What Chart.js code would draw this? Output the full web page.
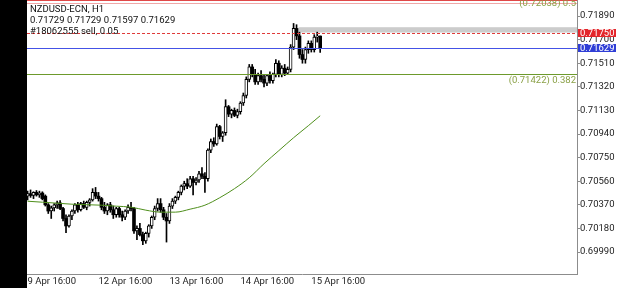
<!DOCTYPE html>
<html>
<head>
<meta charset="utf-8">
<script src="https://cdn.jsdelivr.net/npm/chart.js@4.4.1/dist/chart.umd.min.js"></script>
<style>
  html, body { margin: 0; padding: 0; background: #fff; overflow: hidden; }
  #wrap { width: 625px; height: 288px; }
</style>
</head>
<body>
<div id="wrap"><canvas id="chart" width="625" height="288"></canvas></div>
<script>
// NZDUSD-ECN, H1 candles (9 Apr 16:00 .. 15 Apr 19:00)
const opens = [
  0.70440, 0.70460, 0.70445, 0.70470, 0.70450, 0.70465, 0.70440, 0.70370, 0.70320, 0.70345,
  0.70370, 0.70385, 0.70340, 0.70260, 0.70200, 0.70280, 0.70320, 0.70370, 0.70330, 0.70380,
  0.70350, 0.70390, 0.70410, 0.70470, 0.70440, 0.70420, 0.70350, 0.70320, 0.70370, 0.70330,
  0.70290, 0.70340, 0.70290, 0.70270, 0.70320, 0.70350, 0.70340, 0.70160, 0.70180, 0.70130,
  0.70080, 0.70140, 0.70200, 0.70270, 0.70340, 0.70380, 0.70330, 0.70270, 0.70240, 0.70360,
  0.70400, 0.70430, 0.70470, 0.70520, 0.70540, 0.70520, 0.70580, 0.70550, 0.70570, 0.70620,
  0.70600, 0.70580, 0.70810, 0.70880, 0.70860, 0.71000, 0.70920, 0.70950, 0.71160, 0.71100,
  0.71130, 0.71090, 0.71120, 0.71190, 0.71250, 0.71380, 0.71480, 0.71420, 0.71360, 0.71410,
  0.71380, 0.71350, 0.71410, 0.71370, 0.71420, 0.71510, 0.71420, 0.71470, 0.71430, 0.71460,
  0.71640, 0.71790, 0.71730, 0.71580, 0.71540, 0.71620, 0.71670, 0.71620, 0.71720, 0.71729
];
const highs = [
  0.70480, 0.70490, 0.70475, 0.70485, 0.70480, 0.70475, 0.70450, 0.70380, 0.70360, 0.70380,
  0.70400, 0.70405, 0.70350, 0.70290, 0.70290, 0.70330, 0.70380, 0.70390, 0.70390, 0.70400,
  0.70400, 0.70420, 0.70500, 0.70510, 0.70470, 0.70430, 0.70390, 0.70380, 0.70390, 0.70360,
  0.70350, 0.70350, 0.70320, 0.70330, 0.70370, 0.70390, 0.70350, 0.70200, 0.70220, 0.70150,
  0.70150, 0.70210, 0.70280, 0.70360, 0.70420, 0.70420, 0.70350, 0.70300, 0.70380, 0.70420,
  0.70440, 0.70480, 0.70530, 0.70560, 0.70580, 0.70600, 0.70600, 0.70590, 0.70640, 0.70670,
  0.70630, 0.70820, 0.70900, 0.70910, 0.71020, 0.71010, 0.70960, 0.71216, 0.71170, 0.71140,
  0.71150, 0.71140, 0.71200, 0.71270, 0.71400, 0.71500, 0.71500, 0.71460, 0.71430, 0.71450,
  0.71420, 0.71420, 0.71440, 0.71430, 0.71540, 0.71530, 0.71490, 0.71500, 0.71480, 0.71660,
  0.71830, 0.71820, 0.71760, 0.71620, 0.71640, 0.71690, 0.71690, 0.71740, 0.71760, 0.71729
];
const lows = [
  0.70410, 0.70430, 0.70420, 0.70440, 0.70430, 0.70410, 0.70360, 0.70300, 0.70260, 0.70320,
  0.70340, 0.70330, 0.70240, 0.70146, 0.70190, 0.70250, 0.70300, 0.70310, 0.70320, 0.70340,
  0.70330, 0.70360, 0.70400, 0.70420, 0.70400, 0.70330, 0.70300, 0.70290, 0.70310, 0.70260,
  0.70270, 0.70270, 0.70240, 0.70250, 0.70300, 0.70320, 0.70140, 0.70090, 0.70120, 0.70050,
  0.70060, 0.70110, 0.70180, 0.70250, 0.70320, 0.70310, 0.70250, 0.70070, 0.70220, 0.70340,
  0.70380, 0.70410, 0.70450, 0.70490, 0.70500, 0.70510, 0.70450, 0.70530, 0.70550, 0.70580,
  0.70470, 0.70560, 0.70790, 0.70840, 0.70850, 0.70900, 0.70880, 0.70930, 0.71080, 0.71070,
  0.71080, 0.71070, 0.71100, 0.71170, 0.71230, 0.71360, 0.71400, 0.71340, 0.71340, 0.71360,
  0.71320, 0.71330, 0.71350, 0.71350, 0.71400, 0.71400, 0.71400, 0.71410, 0.71420, 0.71440,
  0.71620, 0.71700, 0.71550, 0.71510, 0.71510, 0.71590, 0.71600, 0.71600, 0.71680, 0.71597
];
const closes = [
  0.70460, 0.70445, 0.70470, 0.70450, 0.70465, 0.70420, 0.70370, 0.70320, 0.70345, 0.70370,
  0.70385, 0.70340, 0.70260, 0.70200, 0.70280, 0.70320, 0.70370, 0.70330, 0.70380, 0.70350,
  0.70390, 0.70410, 0.70470, 0.70440, 0.70420, 0.70350, 0.70320, 0.70370, 0.70330, 0.70290,
  0.70340, 0.70290, 0.70270, 0.70320, 0.70350, 0.70340, 0.70160, 0.70180, 0.70130, 0.70080,
  0.70140, 0.70200, 0.70270, 0.70340, 0.70380, 0.70330, 0.70270, 0.70240, 0.70360, 0.70400,
  0.70430, 0.70470, 0.70520, 0.70540, 0.70520, 0.70580, 0.70550, 0.70570, 0.70620, 0.70600,
  0.70580, 0.70810, 0.70880, 0.70860, 0.71000, 0.70920, 0.70950, 0.71160, 0.71100, 0.71130,
  0.71090, 0.71120, 0.71190, 0.71250, 0.71380, 0.71480, 0.71420, 0.71360, 0.71410, 0.71380,
  0.71350, 0.71410, 0.71370, 0.71420, 0.71510, 0.71420, 0.71470, 0.71430, 0.71460, 0.71640,
  0.71790, 0.71730, 0.71580, 0.71540, 0.71620, 0.71670, 0.71620, 0.71720, 0.71729, 0.71629
];

// moving average, read at every 5th bar
const maBars = [0, 5, 10, 15, 20, 25, 30, 35, 40, 45, 50, 55, 60, 65, 70, 75, 80, 85, 90, 95, 99];
const maValues = [
  0.70399, 0.70391, 0.70383, 0.70375, 0.70371, 0.70367, 0.70359, 0.70351, 0.70327, 0.70311,
  0.70311, 0.70335, 0.70367, 0.70427, 0.70500, 0.70588, 0.70701, 0.70806, 0.70910, 0.71007, 0.71087
];

// axes
const priceTicks = [0.69990, 0.70180, 0.70370, 0.70560, 0.70750, 0.70940, 0.71130, 0.71320, 0.71510, 0.71700, 0.71890];
const timeTickBars = [0, 24, 48, 72, 96];
const timeTickLabels = ['9 Apr 16:00', '12 Apr 16:00', '13 Apr 16:00', '14 Apr 16:00', '15 Apr 16:00'];

// levels
const orderPrice = 0.71750;
const bidPrice = 0.71629;
const fibPrices = [0.72038, 0.71422];
const fibNames = ['0.5', '0.382'];
const topLinePrices = [0.72015, 0.71996];
const bandPrices = [0.71800, 0.71757];
const bandStartBar = 91.7;

const headerLines = ['NZDUSD-ECN, H1', '0.71729 0.71729 0.71597 0.71629', '#18062555 sell, 0.05'];

const FONT = 'Roboto, "Noto Sans", sans-serif';

const bull = opens.map((o, i) => closes[i] >= o);
const bodyUp = opens.map((o, i) => bull[i] ? { x: i, y: [o, closes[i]] } : null).filter(Boolean);
const bodyDown = opens.map((o, i) => !bull[i] ? { x: i, y: [o, closes[i]] } : null).filter(Boolean);
const wicks = highs.map((h, i) => ({ x: i, y: [lows[i], h] }));
const maPoints = maBars.map((b, i) => ({ x: b, y: maValues[i] }));

const overlays = {
    id: 'overlays',
    beforeDraw(chart) {
        const { ctx, width, height } = chart;
        ctx.save();
        ctx.fillStyle = '#fff';
        ctx.fillRect(0, 0, width, height);
        ctx.fillStyle = '#000';
        ctx.fillRect(0, 0, 27, height);
        ctx.restore();
    },
    beforeDatasetsDraw(chart) {
        const { ctx, chartArea: a, scales: { x, y } } = chart;
        ctx.save();
        const x0 = x.getPixelForValue(bandStartBar);
        const y0 = y.getPixelForValue(bandPrices[0]);
        const y1 = y.getPixelForValue(bandPrices[1]);
        ctx.fillStyle = '#cccccc';
        ctx.fillRect(x0, y0, a.right - x0, y1 - y0);
        ctx.restore();
    },
    afterDatasetsDraw(chart) {
        const { ctx, chartArea: a, scales: { y } } = chart;
        const hline = (p, color, dash) => {
            const py = Math.round(y.getPixelForValue(p)) + 0.5;
            ctx.beginPath();
            ctx.setLineDash(dash || []);
            ctx.strokeStyle = color;
            ctx.lineWidth = 1;
            ctx.moveTo(a.left, py);
            ctx.lineTo(a.right, py);
            ctx.stroke();
        };
        ctx.save();
        ctx.beginPath();
        ctx.rect(a.left, a.top, a.right - a.left, a.bottom - a.top);
        ctx.clip();
        hline(topLinePrices[0], '#e04848');
        hline(topLinePrices[1], '#f0a8a8');
        hline(orderPrice, '#e03a3a', [3, 2]);
        hline(bidPrice, '#4452e6');
        hline(fibPrices[1], '#6d9a2c');

        // fibo labels
        ctx.setLineDash([]);
        ctx.font = '9.5px ' + FONT;
        ctx.fillStyle = '#8aa046';
        ctx.textAlign = 'right';
        ctx.textBaseline = 'top';
        fibPrices.forEach((p, i) => {
            const py = y.getPixelForValue(p);
            ctx.fillText('(' + p.toFixed(5) + ') ' + fibNames[i], a.right - 1, py + 1.5);
        });
        ctx.restore();
    },
    afterDraw(chart) {
        const { ctx, chartArea: a, scales: { y } } = chart;
        ctx.save();
        // header
        ctx.font = '9.5px ' + FONT;
        ctx.fillStyle = '#111';
        ctx.textAlign = 'left';
        ctx.textBaseline = 'middle';
        headerLines.forEach((t, i) => ctx.fillText(t, 30, 10 + i * 11));

        // price tags on the axis
        const tag = (p, bg) => {
            const py = y.getPixelForValue(p);
            ctx.fillStyle = bg;
            ctx.fillRect(a.right + 1, Math.round(py) - 4, 38, 8);
            ctx.fillStyle = '#fff';
            ctx.textAlign = 'left';
            ctx.fillText(p.toFixed(5), a.right + 3, py);
        };
        tag(orderPrice, '#e3262b');
        tag(bidPrice, '#2f3ed6');
        ctx.restore();
    }
};

new Chart(document.getElementById('chart'), {
    type: 'bar',
    data: {
        datasets: [
            {
                type: 'line', data: maPoints, order: 0,
                borderColor: '#4f8f1c', borderWidth: 1, pointRadius: 0,
                cubicInterpolationMode: 'monotone'
            },
            {
                data: bodyUp, order: 1, grouped: false, barThickness: 3,
                backgroundColor: '#fff', borderColor: '#000', borderWidth: 1, borderSkipped: false
            },
            {
                data: bodyDown, order: 1, grouped: false, barThickness: 3,
                backgroundColor: '#000', borderColor: '#000', borderWidth: 0
            },
            {
                data: wicks, order: 2, grouped: false, barThickness: 1,
                backgroundColor: '#000', borderWidth: 0
            }
        ]
    },
    options: {
        responsive: false,
        devicePixelRatio: 1,
        animation: false,
        events: [],
        layout: { padding: { left: 27, top: 0, right: 0, bottom: 0 } },
        plugins: { legend: { display: false }, tooltip: { enabled: false } },
        scales: {
            x: {
                type: 'linear', min: -0.2, max: 185.9, offset: false,
                afterFit: (s) => { s.height = 14; s.paddingLeft = 0; s.paddingRight = 0; },
                afterBuildTicks: (s) => { s.ticks = timeTickBars.map(v => ({ value: v })); },
                grid: { display: true, drawOnChartArea: false, drawTicks: false },
                border: { display: true, color: '#8c8c8c' },
                ticks: {
                    align: 'start', maxRotation: 0, autoSkip: false, padding: 2,
                    color: '#222', font: { family: FONT, size: 9.5 },
                    callback: (v) => timeTickLabels[timeTickBars.indexOf(v)]
                }
            },
            y: {
                position: 'right', min: 0.69813, max: 0.72019,
                afterFit: (s) => { s.width = 48; s.paddingTop = 0; s.paddingBottom = 0; },
                afterBuildTicks: (s) => { s.ticks = priceTicks.map(v => ({ value: v })); },
                grid: { drawOnChartArea: false, drawTicks: true, tickLength: 3, color: '#8c8c8c' },
                border: { display: true, color: '#8c8c8c' },
                ticks: {
                    padding: 0, color: '#222', font: { family: FONT, size: 9.5 },
                    callback: (v) => v.toFixed(5)
                }
            }
        }
    },
    plugins: [overlays]
});
</script>
</body>
</html>
